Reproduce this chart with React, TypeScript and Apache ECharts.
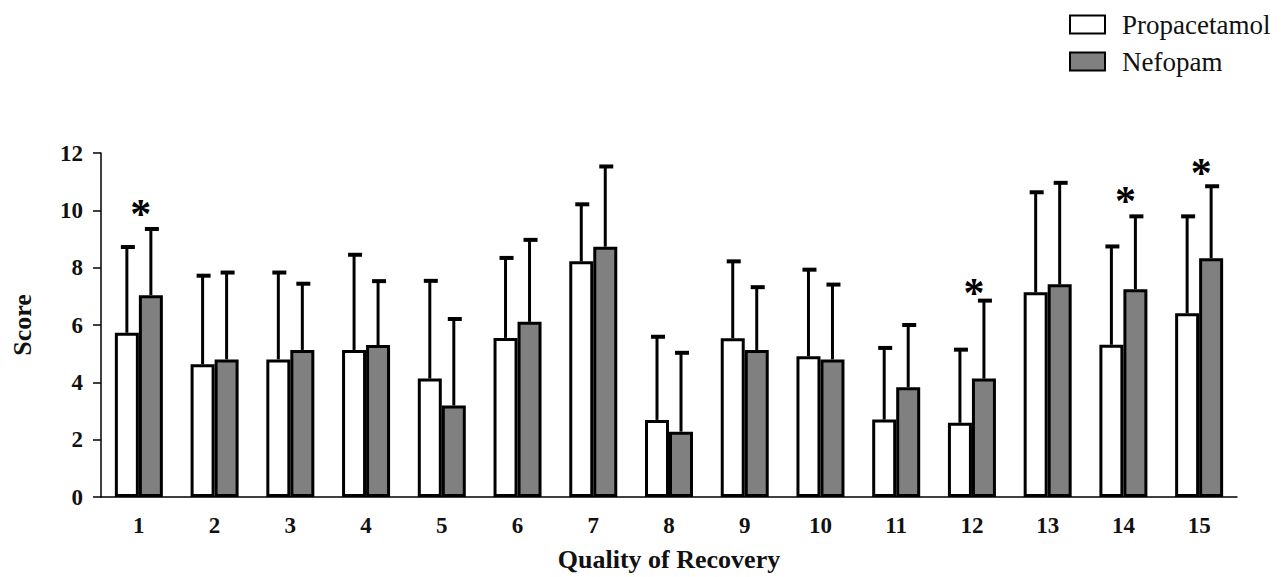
import React, { useEffect, useRef } from "react";
import * as echarts from "echarts";

const categories = ["1", "2", "3", "4", "5", "6", "7", "8", "9", "10", "11", "12", "13", "14", "15"];
const propacetamolMean = [5.73, 4.63, 4.8, 5.13, 4.13, 5.55, 8.22, 2.69, 5.54, 4.91, 2.7, 2.59, 7.14, 5.31, 6.41];
const propacetamolSD = [2.99, 3.09, 3.03, 3.32, 3.41, 2.79, 1.99, 2.9, 2.68, 3.02, 2.5, 2.55, 3.49, 3.43, 3.38];
const nefopamMean = [7.04, 4.8, 5.13, 5.3, 3.19, 6.11, 8.73, 2.28, 5.13, 4.8, 3.83, 4.13, 7.42, 7.25, 8.33];
const nefopamSD = [2.31, 3.03, 2.31, 2.23, 3.02, 2.86, 2.8, 2.75, 2.19, 2.61, 2.17, 2.72, 3.54, 2.54, 2.51];
const sigCategories = ["1", "12", "14", "15"];
const sigMarkY = [10.07, 7.32, 10.52, 11.5];
const yTicks = [0, 2, 4, 6, 8, 10, 12];

const FONT = "'Liberation Serif', 'Times New Roman', serif";
const BAR_W = 24;

function errorRenderer(offset: number) {
  return (params: any, api: any) => {
    const idx = api.value(0);
    const mean = api.value(1);
    const sd = api.value(2);
    const base = api.coord([idx, mean]);
    const top = api.coord([idx, mean + sd]);
    const x = base[0] + offset;
    return {
      type: "group",
      children: [
        {
          type: "line",
          shape: { x1: x, y1: base[1], x2: x, y2: top[1] },
          style: { stroke: "#000", lineWidth: 3 },
        },
        {
          type: "line",
          shape: { x1: x - 6, y1: top[1], x2: x + 8, y2: top[1] },
          style: { stroke: "#000", lineWidth: 4 },
        },
      ],
    };
  };
}

export default function App() {
  const ref = useRef<HTMLDivElement>(null);
  useEffect(() => {
    if (!ref.current) return;
    const chart = echarts.init(ref.current, null, { renderer: "svg" });
    const option: any = {
      animation: false,
      backgroundColor: "#fff",
      textStyle: { fontFamily: FONT },
      legend: {
        orient: "vertical",
        left: 1064,
        top: 6,
        itemWidth: 35,
        itemHeight: 18,
        itemGap: 10,
        icon: "rect",
        textStyle: { fontFamily: FONT, fontSize: 27, color: "#111", padding: [0, 0, 0, 12] },
        data: ["Propacetamol", "Nefopam"],
      },
      grid: { left: 101, right: 45, top: 153, bottom: 80, containLabel: false },
      xAxis: {
        type: "category",
        data: categories,
        name: "Quality of Recovery",
        nameLocation: "middle",
        nameGap: 49,
        nameTextStyle: { fontFamily: FONT, fontSize: 26, fontWeight: "bold", color: "#111" },
        axisLine: { lineStyle: { color: "#000", width: 1.5 } },
        axisTick: { alignWithLabel: true, length: 12, lineStyle: { color: "#000", width: 1.5 } },
        axisLabel: { fontFamily: FONT, fontSize: 23, fontWeight: "bold", color: "#111", margin: 17 },
      },
      yAxis: {
        type: "value",
        min: yTicks[0],
        max: yTicks[yTicks.length - 1],
        interval: 2,
        name: "Score",
        nameLocation: "middle",
        nameGap: 66,
        nameTextStyle: { fontFamily: FONT, fontSize: 26, fontWeight: "bold", color: "#111" },
        axisLine: { show: true, lineStyle: { color: "#000", width: 1.5 } },
        axisTick: { show: true, length: 8, lineStyle: { color: "#000", width: 1.5 } },
        axisLabel: { fontFamily: FONT, fontSize: 23, fontWeight: "bold", color: "#111", margin: 18 },
        splitLine: { show: false },
      },
      series: [
        {
          name: "Propacetamol",
          type: "bar",
          data: propacetamolMean,
          barWidth: BAR_W,
          barGap: "0%",
          itemStyle: { color: "#fff", borderColor: "#000", borderWidth: 3 },
        },
        {
          name: "Nefopam",
          type: "bar",
          data: nefopamMean,
          barWidth: BAR_W,
          barGap: "0%",
          itemStyle: { color: "#808080", borderColor: "#000", borderWidth: 3 },
        },
        {
          type: "custom",
          name: "Propacetamol SD",
          renderItem: errorRenderer(-BAR_W / 2),
          data: propacetamolMean.map((m, i) => [i, m, propacetamolSD[i]]),
          encode: { x: 0, y: 1 },
          z: 5,
          clip: false,
        },
        {
          type: "custom",
          name: "Nefopam SD",
          renderItem: errorRenderer(BAR_W / 2),
          data: nefopamMean.map((m, i) => [i, m, nefopamSD[i]]),
          encode: { x: 0, y: 1 },
          z: 5,
          clip: false,
        },
        {
          type: "scatter",
          name: "sig",
          symbolSize: 0,
          itemStyle: { opacity: 1 },
          data: sigCategories.map((c, i) => [c, sigMarkY[i]]),
          label: {
            show: true,
            position: "inside",
            formatter: "*",
            fontFamily: FONT,
            fontSize: 42,
            fontWeight: "bold",
            color: "#000",
            opacity: 1,
            offset: [2, 6],
          },
          z: 6,
        },
      ],
    };
    chart.setOption(option);
    return () => chart.dispose();
  }, []);
  return (
    <div
      ref={ref}
      style={{ position: "fixed", left: 0, top: 0, width: 1282, height: 577, background: "#fff" }}
    />
  );
}
